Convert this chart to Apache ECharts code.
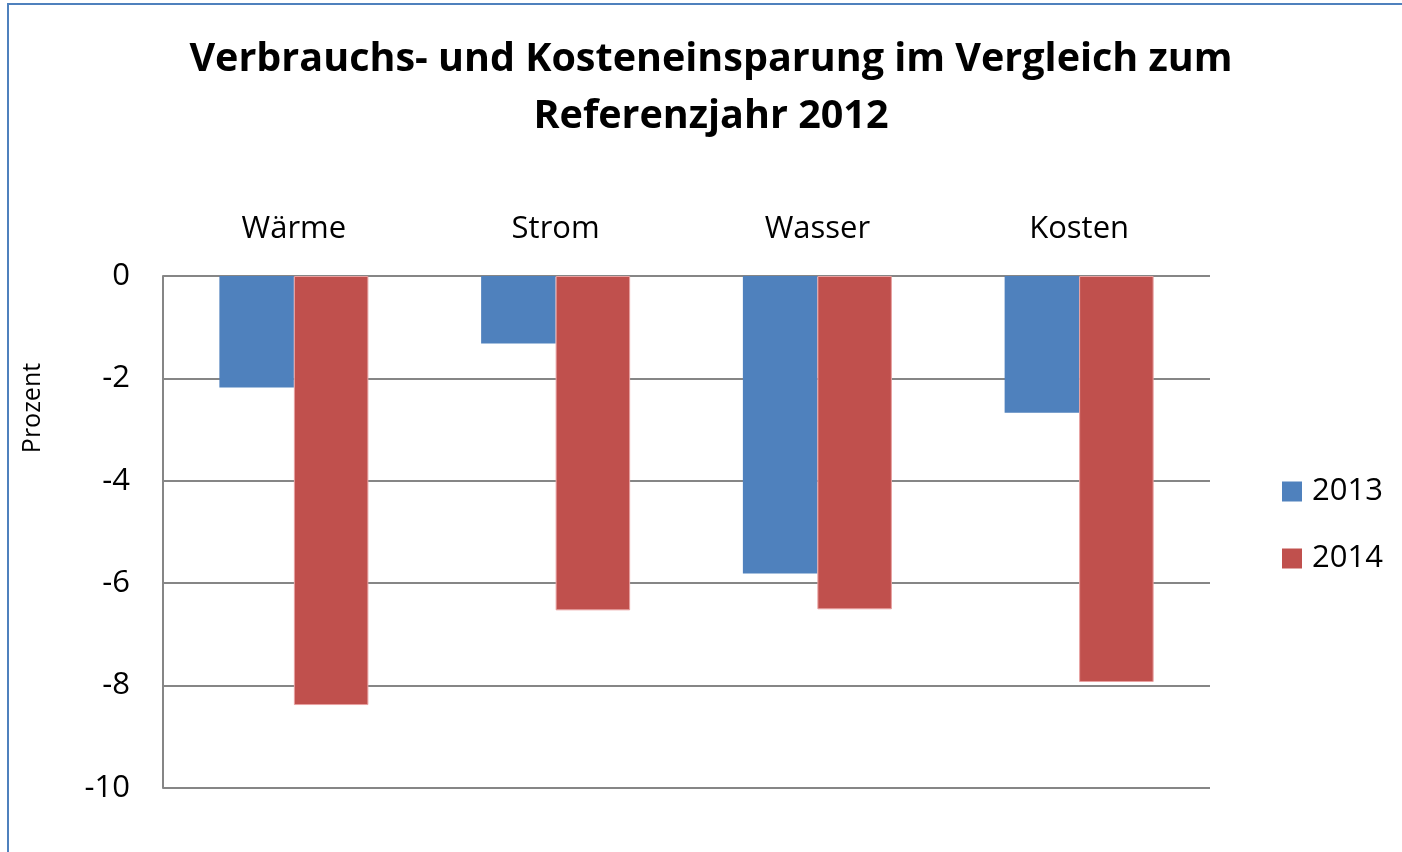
<!DOCTYPE html>
<html><head><meta charset="utf-8">
<script src="https://cdn.jsdelivr.net/npm/echarts@6/dist/echarts.min.js"></script>
<style>html,body{margin:0;padding:0;background:#fff}#c{width:1402px;height:852px}</style>
</head><body><div id="c"></div>
<script>
const categories = ['Wärme', 'Strom', 'Wasser', 'Kosten'];
const values2013 = [-2.18, -1.32, -5.81, -2.67];
const values2014 = [-8.38, -6.53, -6.51, -7.93];
const seriesNames = ['2013', '2014'];
const yTicks = { min: -10, max: 0, interval: 2 };
const FONT = '"Open Sans", sans-serif';

const chart = echarts.init(document.getElementById('c'));
chart.setOption({
  animation: false,
  backgroundColor: '#fff',
  graphic: [
    { type: 'rect', shape: { x: 8, y: 4, width: 1500, height: 900 }, style: { fill: 'none', stroke: '#4F81BD', lineWidth: 2 }, silent: true },
    { type: 'text', x: 711, y: 88, style: { text: 'Verbrauchs- und Kosteneinsparung im Vergleich zum\nReferenzjahr 2012', font: 'bold 39.5px ' + FONT, fill: '#000', align: 'center', verticalAlign: 'middle', lineHeight: 57 } },
    { type: 'text', x: 33, y: 408, rotation: Math.PI / 2, style: { text: 'Prozent', font: '25px ' + FONT, fill: '#000', align: 'center', verticalAlign: 'middle' } }
  ],
  legend: {
    orient: 'vertical', left: 1282, top: 476, padding: 0, itemWidth: 20, itemHeight: 20, itemGap: 36,
    icon: 'rect',
    itemStyle: { borderWidth: 0 },
    textStyle: { fontSize: 31, fontFamily: FONT, color: '#000', padding: [0, 0, 0, 5] },
    data: seriesNames
  },
  grid: { left: 163, right: 192, top: 276, bottom: 64, containLabel: false },
  xAxis: {
    type: 'category', position: 'top', data: categories,
    axisLine: { show: false }, axisTick: { show: false },
    axisLabel: { fontSize: 31, fontFamily: FONT, color: '#000', margin: 31 }
  },
  yAxis: {
    type: 'value', min: yTicks.min, max: yTicks.max, interval: yTicks.interval,
    axisLine: { show: true, lineStyle: { color: '#868686', width: 2 } },
    axisTick: { show: false },
    splitLine: { show: true, lineStyle: { color: '#868686', width: 2 } },
    axisLabel: { fontSize: 31, fontFamily: FONT, color: '#000', margin: 33 }
  },
  series: [
    { name: seriesNames[0], type: 'bar', data: values2013, barWidth: 74.5, barGap: '0%', itemStyle: { color: '#4F81BD' } },
    { name: seriesNames[1], type: 'bar', data: values2014, barWidth: 74.5, barGap: '0%', itemStyle: { color: '#C0504D', borderColor: '#E8A0A0', borderWidth: 1 } }
  ]
});
</script></body></html>
